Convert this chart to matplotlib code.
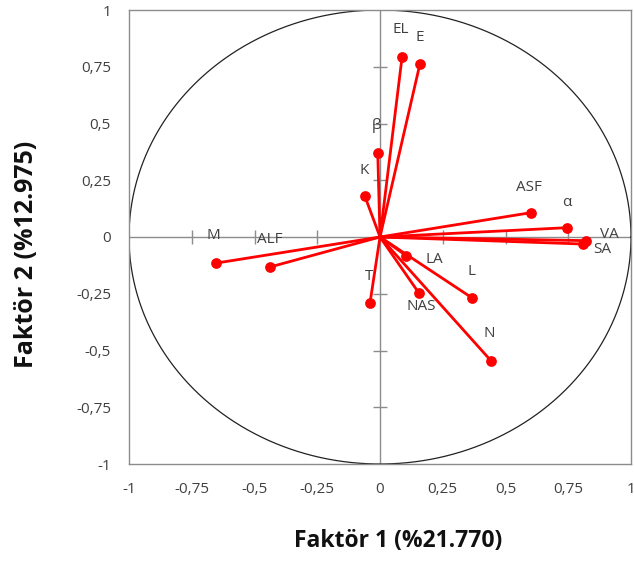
import numpy as np
import matplotlib
matplotlib.use("Agg")
import matplotlib.pyplot as plt

# loadings
variables = ["M", "ALF", "EL", "E", "β", "K", "ASF", "α", "VA", "SA", "LA", "T", "NAS", "L", "N"]
factor1 = [-0.653, -0.438, 0.088, 0.159, -0.009, -0.060, 0.600, 0.744, 0.821, 0.810, 0.104, -0.040, 0.154, 0.365, 0.442]
factor2 = [-0.115, -0.132, 0.794, 0.762, 0.371, 0.179, 0.107, 0.041, -0.016, -0.031, -0.082, -0.292, -0.245, -0.267, -0.545]

# label anchor points (data coords)
label_x = [-0.665, -0.438, 0.084, 0.160, -0.012, -0.064, 0.594, 0.745, 0.912, 0.884, 0.215, -0.044, 0.163, 0.363, 0.434]
label_y = [0.005, -0.013, 0.912, 0.877, 0.493, 0.295, 0.220, 0.154, 0.009, -0.057, -0.097, -0.176, -0.308, -0.154, -0.427]

ticks = [-1, -0.75, -0.5, -0.25, 0, 0.25, 0.5, 0.75, 1]
tick_labels = ["-1", "-0,75", "-0,5", "-0,25", "0", "0,25", "0,5", "0,75", "1"]

plt.rcParams["font.family"] = ["Open Sans", "DejaVu Sans"]

W, H = 634, 561
fig = plt.figure(figsize=(W / 100, H / 100), dpi=100)
ax = fig.add_axes([129 / W, 1 - 464 / H, 502 / W, 454 / H])

# unit circle
theta = np.linspace(0, 2 * np.pi, 400)
ax.plot(np.cos(theta), np.sin(theta), color="#222222", lw=0.9, zorder=2)

# zero axes with crossing tick marks
grey = "#8c8c8c"
ax.axhline(0, color=grey, lw=1, zorder=1)
ax.axvline(0, color=grey, lw=1, zorder=1)
inner = [t for t in ticks if t not in (-1, 0, 1)]
ax.plot(inner, [0] * len(inner), ls="none", marker="|", ms=10, mew=1, color=grey, zorder=1)
ax.plot([0] * len(inner), inner, ls="none", marker="_", ms=10, mew=1, color=grey, zorder=1)

# vectors
for x, y in zip(factor1, factor2):
    ax.plot([0, x], [0, y], color="#ff0000", lw=2, zorder=3)
ax.scatter(factor1, factor2, s=45, color="#ff0000", zorder=4)

for name, x, y in zip(variables, label_x, label_y):
    ax.text(x, y, name, ha="center", va="center", fontsize=11, color="#404040", zorder=5)

ax.set_xlim(-1, 1)
ax.set_ylim(-1, 1)
ax.set_xticks(ticks)
ax.set_xticklabels(tick_labels)
ax.set_yticks(ticks)
ax.set_yticklabels(tick_labels)
ax.tick_params(length=0, labelsize=11, labelcolor="#404040")
ax.tick_params(axis="x", pad=13)
ax.tick_params(axis="y", pad=13)
for s in ax.spines.values():
    s.set_color(grey)
    s.set_linewidth(1)

fig.text(398 / W, 1 - 541 / H, "Faktör 1 (%21.770)", ha="center", va="center",
         fontsize=16.5, fontweight="bold", color="#111111")
fig.text(27 / W, 1 - 254 / H, "Faktör 2 (%12.975)", ha="center", va="center",
         rotation=90, fontsize=18, fontweight="bold", color="#111111")

fig.savefig("out.png", dpi=100)
